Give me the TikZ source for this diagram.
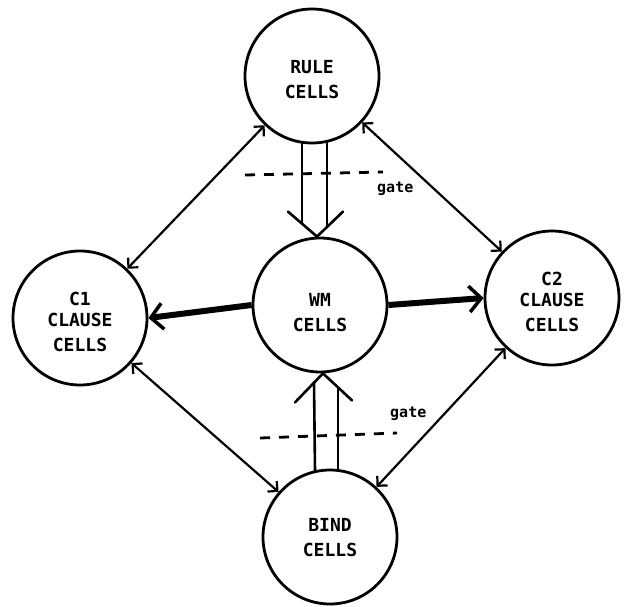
\documentclass[tikz,border=0pt]{standalone}
\usepackage{fontspec}
\setmonofont{DejaVu Sans Mono}
\usetikzlibrary{arrows.meta,calc}

\begin{document}
\begin{tikzpicture}[x=1pt,y=-1pt,
  cell/.style={circle,draw,line width=2.8pt,minimum size=134pt,inner sep=0pt},
  celltext/.style={align=center,inner sep=0pt,
    font=\ttfamily\bfseries\fontsize{18}{25}\selectfont},
  link/.style={line width=2.2pt,
    {Straight Barb[length=7pt,width=14pt]}-{Straight Barb[length=7pt,width=14pt]}},
  flow/.style={line width=6pt,
    -{Straight Barb[length=12pt,width=26pt,line width=3.5pt]}},
  rail/.style={line width=2.6pt,line cap=round},
  gateline/.style={line width=2.8pt,dash pattern=on 10pt off 9pt},
  gatetext/.style={anchor=west,inner sep=0pt,
    font=\ttfamily\bfseries\fontsize{15}{15}\selectfont}]
\useasboundingbox (0,0) rectangle (626,606);

% the five cell populations
\node[cell] (rule) at (312,76) {};
\node[cell] (wm)   at (320,305) {};
\node[cell] (c1)   at (80,318) {};
\node[cell] (c2)   at (552,298) {};
\node[cell] (bind) at (330,537) {};

\node[celltext] (ruleT) at ($(rule)+(0,4)$) {RULE\\CELLS};
\node[celltext] (wmT)   at ($(wm)+(0,8)$)   {WM\\CELLS};
\node[celltext] (c1T)   at ($(c1)+(0,4)$)   {C1\\[-4pt]CLAUSE\\CELLS};
\node[celltext] (c2T)   at ($(c2)+(0,4)$)   {C2\\[-4pt]CLAUSE\\CELLS};
\node[celltext] (bindT) at ($(bind)+(0,1)$) {BIND\\CELLS};

% two-way links round the outside
\draw[link] (rule) -- (c1);
\draw[link] (rule) -- (c2);
\draw[link] (c1) -- (bind);
\draw[link] (c2) -- (bind);

% heavy output arrows from working memory
\draw[flow] (wm.west) -- (c1.east);
\draw[flow] (wm.east) -- (c2.west);

% gated double-line arrow RULE -> WM
\coordinate (tA) at ($(wm.north)+(-3,0)$);
\draw[rail] ($(rule.south)+(-10,-1)$) -- ($(tA)+(-15,-13)$);
\draw[rail] ($(rule.south)+(15,-2)$) -- ($(tA)+(10,-10)$);
\draw[rail] ($(tA)+(-29,-25)$) -- (tA) -- ($(tA)+(26,-25)$);

% gated double-line arrow BIND -> WM
\coordinate (tB) at ($(wm.south)+(3,0)$);
\draw[rail] ($(bind.north)+(-15,2)$) -- ($(tB)+(-9,9)$);
\draw[rail] ($(bind.north)+(8,0)$) -- ($(tB)+(15,14)$);
\draw[rail] ($(tB)+(-28,29)$) -- (tB) -- ($(tB)+(29,27)$);

% gates
\coordinate (g1a) at (245,175);
\coordinate (g1b) at (383,172);
\draw[gateline] (g1a) -- (g1b);
\node[gatetext] (g1) at (377,189) {gate};

\coordinate (g2a) at (260,438);
\coordinate (g2b) at (397,433);
\draw[gateline] (g2a) -- (g2b);
\node[gatetext] (g2) at (390,414) {gate};
\end{tikzpicture}
\end{document}
